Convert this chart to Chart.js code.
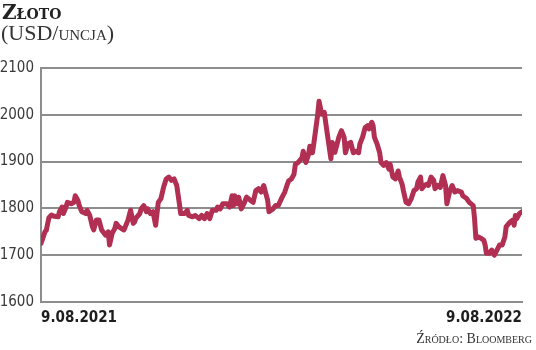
<!DOCTYPE html>
<html><head><meta charset="utf-8">
<script src="https://cdn.jsdelivr.net/npm/chart.js@4"></script>
<style>
html,body{margin:0;padding:0;background:#fff;}
#wrap{position:relative;width:536px;height:350px;overflow:hidden;}
canvas{position:absolute;left:0;top:0;}
.txt{position:absolute;white-space:nowrap;color:#222;}
#t1{left:2px;top:0px;font:bold 20px "DejaVu Serif",serif;font-variant:small-caps;}
#t2{left:1px;top:20px;font:22px "Liberation Serif",serif;font-variant:small-caps;color:#333;}
#src{right:4px;top:331px;font:14px "Liberation Serif",serif;font-variant:small-caps;color:#333;}
</style></head>
<body><div id="wrap">
<canvas id="c" width="536" height="350"></canvas>
<div class="txt" id="t1">Złoto</div>
<div class="txt" id="t2">(USD/uncja)</div>
<div class="txt" id="src">Źródło: Bloomberg</div>
</div>
<script>
// days since 9.08.2021
const days = [0,1,3,4,6,8,10,13,14,16,17,19,20,23,25,26,28,29,31,34,35,37,39,40,42,44,46,47,49,51,52,54,56,57,59,61,63,66,68,70,71,72,75,76,78,80,81,83,85,87,89,91,93,95,97,99,101,103,105,106,109,111,112,115,117,120,122,124,126,128,130,133,134,136,138,141,143,145,146,147,149,150,152,154,156,159,161,163,165,167,169,170,172,173,176,178,180,183,185,187,188,190,192,193,195,198,199,201,203,204,206,207,209,210,211,213,215,216,218,220,221,223,226,228,230,231,233,235,237,239,241,242,244,246,248,249,251,252,253,255,257,258,260,262,264,265,267,269,271,272,274,275,277,279,281,283,285,286,288,289,291,293,294,296,298,299,301,303,305,307,308,310,312,314,316,319,320,323,325,328,329,330,332,334,336,337,338,340,342,344,346,348,350,352,353,356,358,359,360,361,363,365];
const gold = [1725,1733,1750,1753,1780,1786,1783,1782,1793,1803,1789,1803,1813,1810,1813,1827,1817,1806,1793,1789,1796,1785,1761,1754,1775,1775,1754,1750,1743,1750,1722,1747,1757,1768,1761,1757,1754,1775,1796,1768,1771,1779,1789,1799,1806,1793,1799,1789,1793,1764,1813,1821,1845,1863,1867,1860,1863,1849,1810,1789,1789,1796,1785,1782,1785,1778,1785,1778,1789,1778,1796,1796,1803,1799,1810,1810,1803,1827,1806,1827,1810,1824,1799,1810,1824,1817,1813,1838,1842,1835,1849,1838,1817,1793,1799,1806,1806,1824,1835,1852,1859,1863,1873,1894,1898,1908,1922,1898,1915,1933,1919,1938,1980,2001,2029,2001,2005,1984,1945,1906,1941,1920,1952,1966,1952,1919,1938,1941,1919,1922,1919,1938,1952,1973,1977,1970,1984,1977,1952,1938,1919,1898,1892,1898,1884,1894,1867,1863,1880,1867,1852,1838,1813,1810,1821,1838,1842,1856,1867,1842,1849,1852,1849,1867,1860,1842,1849,1845,1870,1849,1810,1835,1849,1835,1838,1835,1827,1821,1813,1806,1778,1736,1739,1736,1732,1722,1704,1704,1711,1700,1711,1722,1722,1739,1761,1771,1775,1764,1785,1778,1789,1793];
const yTicks = [1600,1700,1800,1900,2000,2100];
const xLabels = ['9.08.2021','9.08.2022'];
const xTickDays = [0,365];

const pts = days.map((d,i)=>({x:d,y:gold[i]}));
const gridCol = '#8d8d8d';
const tickFont = '"DejaVu Sans Condensed","DejaVu Sans",sans-serif';
new Chart(document.getElementById('c'), {
  type:'line',
  data:{datasets:[{data:pts,borderColor:'#b12f52',borderWidth:5,pointRadius:0,tension:0,borderJoinStyle:'round',borderCapStyle:'round',fill:false}]},
  options:{
    responsive:false,animation:false,
    layout:{padding:{top:68,right:14,left:0,bottom:0}},
    plugins:{legend:{display:false},tooltip:{enabled:false}},
    scales:{
      x:{type:'linear',min:0,max:365,
        afterBuildTicks:s=>{s.ticks=xTickDays.map(v=>({value:v}));},
        afterFit:s=>{s.height=48;},
        grid:{display:false,drawTicks:false},
        border:{display:true,color:gridCol,width:2},
        ticks:{align:'inner',maxRotation:0,padding:7,color:'#1e1e1e',
          font:{family:tickFont,size:15,weight:'bold'},
          callback:(v)=>xLabels[xTickDays.indexOf(v)]}
      },
      y:{min:1600,max:2100,
        afterBuildTicks:s=>{s.ticks=yTicks.map(v=>({value:v}));},
        afterFit:s=>{s.width=41;},
        grid:{color:gridCol,lineWidth:2,drawTicks:false},
        border:{display:true,color:gridCol,width:2},
        ticks:{padding:7,color:'#3a3a3a',
          font:{family:tickFont,size:15},
          callback:(v)=>String(v)}
      }
    }
  }
});
</script>
</body></html>
